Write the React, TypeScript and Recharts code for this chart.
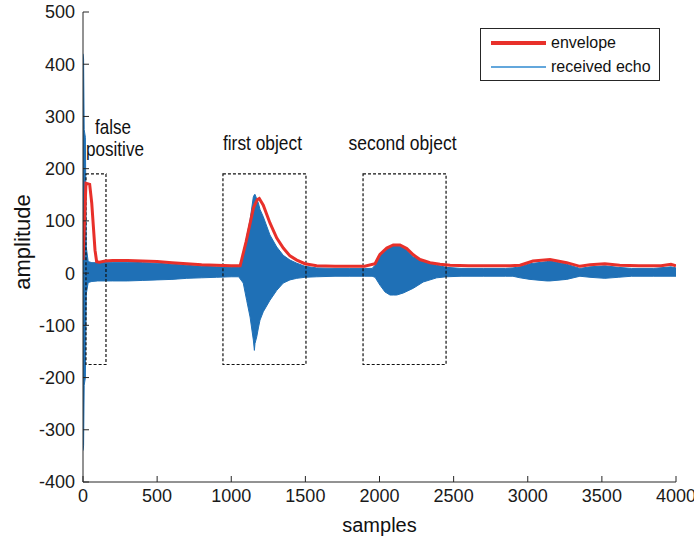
import React from "react";
import {
  Area,
  ComposedChart,
  Legend,
  Line,
  ReferenceArea,
  XAxis,
  YAxis,
} from "recharts";

// envelope (red), sampled where the curve changes
const ENV_X = [
  0, 20, 45, 59, 70, 81, 92, 110, 150, 200, 300, 400, 500, 600, 700, 800, 900,
  1000, 1060, 1100, 1150, 1176, 1189, 1216, 1261, 1307, 1351, 1396, 1442, 1497,
  1576, 1700, 1800, 1900, 1970, 2003, 2049, 2093, 2138, 2184, 2228, 2273, 2341,
  2408, 2476, 2600, 2750, 2880, 2948, 3035, 3150, 3263, 3352, 3420, 3520, 3620,
  3750, 3900, 3966, 4000,
];
const ENV_Y = [
  25, 172, 170, 134, 89, 44, 22, 21, 23, 24, 24, 23, 22, 20, 18, 16, 15, 14, 14,
  60, 125, 141, 143, 130, 96, 67, 48, 33, 25, 18, 14, 13, 13, 13, 18, 36, 48,
  54, 54, 47, 35, 26, 20, 17, 15, 14, 14, 14, 15, 23, 26, 20, 13, 16, 18, 15,
  14, 14, 17, 14,
];

// received echo, drawn as the band between its lower and upper swing
const ECHO_X = [
  0, 4, 8, 16, 22, 35, 60, 100, 200, 300, 400, 500, 600, 700, 800, 900, 1000,
  1050, 1081, 1104, 1127, 1149, 1156, 1160, 1172, 1183, 1194, 1216, 1261, 1307,
  1351, 1396, 1442, 1497, 1576, 1700, 1800, 1900, 1950, 1970, 2003, 2037, 2071,
  2093, 2116, 2161, 2228, 2295, 2386, 2453, 2550, 2700, 2850, 2900, 2948, 3015,
  3128, 3150, 3263, 3352, 3420, 3520, 3610, 3700, 3850, 3966, 4000,
];
const ECHO_LO = [
  -340, -330, -215, -200, -40, -18, -16, -15, -15, -15, -14, -13, -12, -10, -9,
  -8, -7, -7, -19, -52, -84, -128, -148, -135, -122, -105, -90, -74, -52, -33,
  -19, -13, -10, -8, -7, -6, -6, -6, -6, -8, -23, -36, -42, -42, -42, -38, -29,
  -17, -9, -7, -6, -6, -6, -6, -9, -12, -15, -15, -12, -6, -8, -10, -8, -6, -6,
  -6, -6,
];
const ECHO_HI = [
  420, 410, 275, 260, 50, 22, 20, 20, 21, 21, 20, 19, 17, 15, 13, 12, 11, 11,
  31, 70, 102, 146, 150, 151, 142, 134, 122, 108, 73, 50, 34, 25, 19, 13, 10, 9,
  9, 9, 9, 15, 34, 44, 51, 54, 53, 49, 31, 22, 15, 11, 9, 9, 9, 10, 12, 18, 22,
  23, 17, 9, 12, 14, 11, 9, 9, 12, 10,
];

const X_TICKS = [0, 500, 1000, 1500, 2000, 2500, 3000, 3500, 4000];
const Y_TICKS = [-400, -300, -200, -100, 0, 100, 200, 300, 400, 500];

// dashed regions of interest
const BOXES = [
  { x1: 20, x2: 155, label: ["false", "positive"] },
  { x1: 944, x2: 1504, label: ["first object"] },
  { x1: 1889, x2: 2449, label: ["second object"] },
];
const BOX_Y = [-175, 190];

const envelopeData = ENV_X.map((s, i) => ({ s, env: ENV_Y[i] }));
const echoData = ECHO_X.map((s, i) => ({ s, echo: [ECHO_LO[i], ECHO_HI[i]] }));

const SANS = "'Liberation Sans', Arial, sans-serif";
const AXIS = "#262626";
const RED = "#e8302a";
const BLUE = "#1f70b6";

const tickStyle = { fill: "#1a1a1a", fontSize: 18, fontFamily: SANS };

// narrow annotation text, squeezed to the width seen in the figure
function Note({ x, y, w, children }: { x: number; y: number; w: number; children: string }) {
  return (
    <text
      x={x}
      y={y}
      fontFamily={SANS}
      fontSize={21}
      fill="#111"
      textLength={w}
      lengthAdjust="spacingAndGlyphs"
    >
      {children}
    </text>
  );
}

// eslint-disable-next-line @typescript-eslint/no-explicit-any
function BoxLabel({ viewBox, lines }: any) {
  const cx = viewBox.x + viewBox.width / 2;
  if (lines.length === 2) {
    return (
      <g>
        <Note x={cx - 1} y={viewBox.y - 40} w={36}>{lines[0]}</Note>
        <Note x={cx - 10} y={viewBox.y - 18} w={58}>{lines[1]}</Note>
      </g>
    );
  }
  const w = lines[0].length > 12 ? 108 : 79;
  return (
    <Note x={cx - 2 - w / 2} y={viewBox.y - 24} w={w}>
      {lines[0]}
    </Note>
  );
}

// eslint-disable-next-line @typescript-eslint/no-explicit-any
function LegendBox({ payload }: any) {
  return (
    <div
      style={{
        border: `1px solid ${AXIS}`,
        background: "#fff",
        width: 178,
        height: 51,
        boxSizing: "content-box",
        fontFamily: SANS,
        fontSize: 16,
        color: "#111",
      }}
    >
      {(payload || []).map((entry: any, i: number) => (
        <div
          key={entry.value}
          style={{
            display: "flex",
            alignItems: "center",
            height: 24,
            marginTop: i === 0 ? 2 : 0,
          }}
        >
          <svg width={70} height={10} style={{ flex: "none" }}>
            <line
              x1={10}
              x2={65}
              y1={5}
              y2={5}
              stroke={entry.dataKey === "env" ? RED : "#2f8ad0"}
              strokeWidth={entry.dataKey === "env" ? 4 : 1.5}
            />
          </svg>
          <span>{entry.value}</span>
        </div>
      ))}
    </div>
  );
}

export default function App() {
  return (
    <div style={{ position: "absolute", left: 0, top: 0, width: 694, height: 539, background: "#fff" }}>
      <ComposedChart
        width={694}
        height={539}
        margin={{ top: 12, right: 18, bottom: 0, left: 0 }}
      >
        <XAxis
          dataKey="s"
          type="number"
          domain={[0, 4000]}
          ticks={X_TICKS}
          allowDataOverflow
          height={57}
          tickSize={-6}
          tickMargin={13}
          stroke={AXIS}
          tick={tickStyle}
          label={{
            value: "samples",
            position: "insideBottom",
            offset: 7,
            fontFamily: SANS,
            fontSize: 20,
            fill: "#111",
          }}
        />
        <XAxis
          xAxisId="top"
          orientation="top"
          type="number"
          domain={[0, 4000]}
          ticks={X_TICKS}
          height={0}
          tickSize={-6}
          stroke={AXIS}
          tickFormatter={() => ""}
        />
        <YAxis
          type="number"
          domain={[-400, 500]}
          ticks={Y_TICKS}
          allowDataOverflow
          width={83}
          tickSize={-6}
          tickMargin={14}
          stroke={AXIS}
          tick={tickStyle}
          label={{
            content: () => (
              <text
                x={22}
                y={242}
                transform="rotate(-90, 22, 242)"
                textAnchor="middle"
                dominantBaseline="central"
                fontFamily={SANS}
                fontSize={22}
                fill="#111"
              >
                amplitude
              </text>
            ),
          }}
        />
        <YAxis
          yAxisId="right"
          orientation="right"
          type="number"
          domain={[-400, 500]}
          ticks={Y_TICKS}
          width={0}
          tickSize={-6}
          stroke={AXIS}
          tickFormatter={() => ""}
        />
        <Line
          data={envelopeData}
          dataKey="env"
          name="envelope"
          type="linear"
          stroke={RED}
          strokeWidth={3}
          dot={false}
          activeDot={false}
          isAnimationActive={false}
        />
        <Area
          data={echoData}
          dataKey="echo"
          name="received echo"
          type="linear"
          stroke={BLUE}
          strokeWidth={1}
          fill={BLUE}
          fillOpacity={1}
          dot={false}
          activeDot={false}
          isAnimationActive={false}
        />
        {BOXES.map((b) => (
          <ReferenceArea
            key={b.x1}
            x1={b.x1}
            x2={b.x2}
            y1={BOX_Y[0]}
            y2={BOX_Y[1]}
            fill="none"
            fillOpacity={0}
            stroke="#111"
            strokeWidth={1.2}
            strokeDasharray="3 2"
            label={{ content: (p: any) => <BoxLabel viewBox={p.viewBox} lines={b.label} /> }}
          />
        ))}
        <Legend
          layout="horizontal"
          verticalAlign="middle"
          align="center"
          wrapperStyle={{ left: 480, top: 28, width: 180, height: 53 }}
          content={<LegendBox />}
        />
      </ComposedChart>
    </div>
  );
}
